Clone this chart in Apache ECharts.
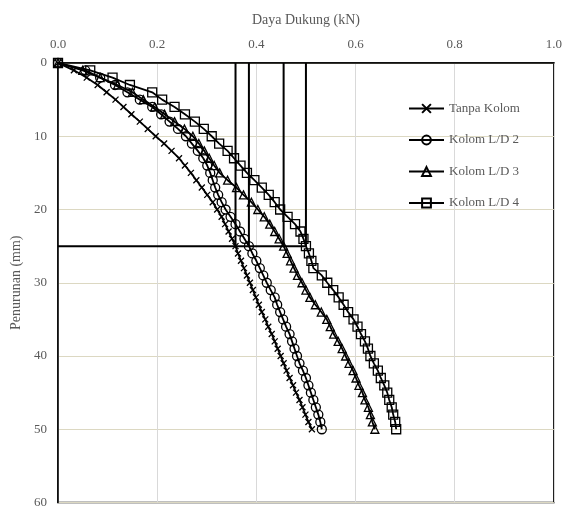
<!DOCTYPE html>
<html><head><meta charset="utf-8">
<script src="https://cdn.jsdelivr.net/npm/echarts@6/dist/echarts.min.js"></script>
<style>html,body{margin:0;padding:0;background:#fff}#c{width:565px;height:509px}</style>
</head><body><div id="c"></div>
<script>
const depth = [0,1,2,3,4,5,6,7,8,9,10,11,12,13,14,15,16,17,18,19,20,21,22,23,24,25,26,27,28,29,30,31,32,33,34,35,36,37,38,39,40,41,42,43,44,45,46,47,48,49,50];
const tanpaKolom = [0,0.032,0.058,0.080,0.098,0.116,0.132,0.148,0.165,0.181,0.197,0.214,0.229,0.244,0.256,0.268,0.279,0.290,0.301,0.312,0.321,0.330,0.337,0.344,0.351,0.358,0.363,0.369,0.375,0.381,0.387,0.393,0.399,0.405,0.411,0.418,0.424,0.431,0.437,0.443,0.449,0.455,0.461,0.467,0.474,0.480,0.487,0.493,0.499,0.505,0.512];
const kolomLD2 = [0,0.055,0.085,0.115,0.140,0.165,0.190,0.208,0.225,0.242,0.258,0.270,0.282,0.293,0.301,0.307,0.312,0.317,0.323,0.330,0.338,0.348,0.358,0.367,0.376,0.385,0.392,0.400,0.407,0.414,0.421,0.429,0.437,0.442,0.448,0.454,0.460,0.467,0.472,0.477,0.482,0.487,0.494,0.500,0.505,0.510,0.515,0.520,0.525,0.529,0.532];
const kolomLD3 = [0,0.050,0.085,0.120,0.150,0.172,0.195,0.215,0.235,0.255,0.272,0.284,0.295,0.305,0.315,0.326,0.342,0.360,0.374,0.390,0.403,0.416,0.427,0.437,0.446,0.455,0.462,0.469,0.476,0.483,0.492,0.500,0.508,0.519,0.531,0.542,0.549,0.556,0.565,0.573,0.580,0.587,0.595,0.601,0.607,0.614,0.619,0.626,0.630,0.634,0.639];
const kolomLD4 = [0,0.065,0.110,0.145,0.190,0.210,0.235,0.256,0.276,0.294,0.310,0.325,0.342,0.355,0.368,0.381,0.396,0.411,0.425,0.437,0.448,0.463,0.478,0.489,0.495,0.500,0.506,0.511,0.515,0.532,0.543,0.555,0.566,0.576,0.585,0.596,0.604,0.611,0.619,0.625,0.630,0.637,0.645,0.651,0.658,0.664,0.668,0.673,0.676,0.680,0.682];
const seriesNames = ['Tanpa Kolom','Kolom L/D 2','Kolom L/D 3','Kolom L/D 4'];
const refDepth = 25;
const refLoads = [0.358, 0.385, 0.455, 0.500];
const xTicks = [0.0,0.2,0.4,0.6,0.8,1.0];
const yTicks = [0,10,20,30,40,50,60];

const font = 'Liberation Serif, Times New Roman, serif';
const txt = '#595959';
const pair = (arr) => arr.map((v,i)=>[v, depth[i]]);
const symbols = ['path://M0,0L10,10M10,0L0,10','circle','triangle','rect'];
const sizes = [6,9,8,9];
const dataSets = [tanpaKolom,kolomLD2,kolomLD3,kolomLD4];

const series = dataSets.map((d,i)=>({
  name: seriesNames[i], type:'line', data: pair(d),
  symbol: symbols[i], symbolSize: sizes[i], showAllSymbol: true,
  lineStyle:{color:'#000', width:1.8},
  itemStyle:{color: i===0 ? '#000' : 'rgba(255,255,255,0)', borderColor:'#000', borderWidth:1.3},
  emphasis:{disabled:true}, z: 3, animation:false
}));
series.push({
  type:'line', data:[[0,refDepth],[Math.max(...refLoads),refDepth]], symbol:'none',
  lineStyle:{color:'#000',width:2}, silent:true, animation:false, z:2
});
refLoads.forEach(x=>{
  series.push({type:'line', data:[[x,0],[x,refDepth]], symbol:'none',
    lineStyle:{color:'#000',width:2}, silent:true, animation:false, z:2});
});

const chart = echarts.init(document.getElementById('c'));
chart.setOption({
  animation:false,
  backgroundColor:'#fff',
  grid:{left:58, top:63, right:8, bottom:5, show:true, borderColor:'#000', borderWidth:1.5, backgroundColor:'transparent'},
  legend:{
    data: seriesNames, orient:'vertical', left:408, top:102, itemWidth:35, itemHeight:11, itemGap:18.5,
    textStyle:{fontFamily:font, fontSize:13, color:txt}, padding:0
  },
  xAxis:{
    type:'value', position:'top', min:0, max:1, interval:0.2,
    name:'Daya Dukung (kN)', nameLocation:'middle', nameGap:36,
    nameTextStyle:{fontFamily:font, fontSize:14, color:txt},
    axisLabel:{fontFamily:font, fontSize:13, color:txt, margin:12, formatter:v=>{const t=xTicks.find(k=>Math.abs(k-v)<1e-9); return (t!==undefined?t:v).toFixed(1);}},
    axisLine:{show:true, lineStyle:{color:'#000', width:1.5}},
    axisTick:{show:false},
    splitLine:{show:true, lineStyle:{color:'#d9d9d9', width:1}}
  },
  yAxis:{
    type:'value', inverse:true, min:0, max:60, interval:10,
    name:'Penurunan (mm)', nameLocation:'middle', nameGap:34, nameRotate:90,
    nameTextStyle:{fontFamily:font, fontSize:14, color:txt},
    axisLabel:{fontFamily:font, fontSize:13, color:txt, margin:11, formatter:v=>String(yTicks.includes(v)?v:v)},
    axisLine:{show:true, lineStyle:{color:'#000', width:1.5}},
    axisTick:{show:false},
    splitLine:{show:true, lineStyle:{color:'#dcd8c2', width:1}}
  },
  series
});
</script></body></html>
